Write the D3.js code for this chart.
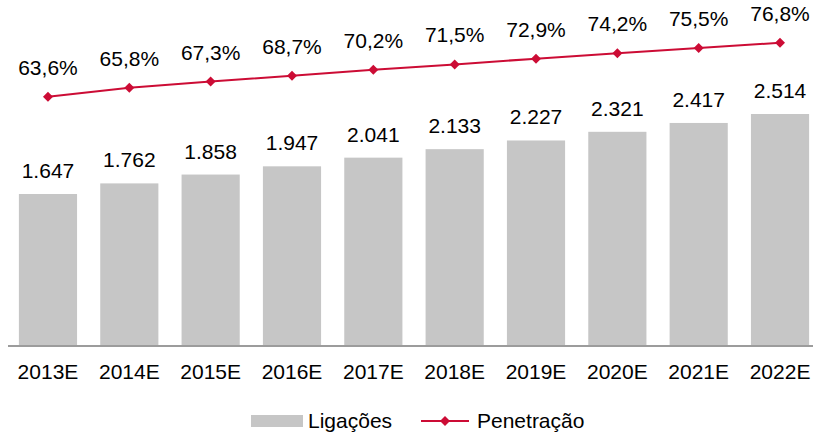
<!DOCTYPE html>
<html>
<head>
<meta charset="utf-8">
<script src="https://cdn.jsdelivr.net/npm/d3@7"></script>
<style>
  body { margin: 0; background: #fff; }
  text { font-family: "Liberation Sans", Arial, sans-serif; fill: #000; }
</style>
</head>
<body>
<svg width="813" height="434"></svg>
<script>
// data
const years = ['2013E', '2014E', '2015E', '2016E', '2017E', '2018E', '2019E', '2020E', '2021E', '2022E'];
const ligacoes = [1.647, 1.762, 1.858, 1.947, 2.041, 2.133, 2.227, 2.321, 2.417, 2.514];
const penetracao = [63.6, 65.8, 67.3, 68.7, 70.2, 71.5, 72.9, 74.2, 75.5, 76.8];

const barColor = '#c6c6c6';
const lineColor = '#cc0c35';
const fontSize = 21;

const svg = d3.select('svg');

const x = d3.scaleBand()
    .domain(years)
    .range([7.3, 820.7])
    .paddingInner(0.285)
    .paddingOuter(0.1425);

const y = d3.scaleLinear()
    .domain([0, 2.514])
    .range([346, 114]);

// secondary axis for the line
const y2 = d3.scaleLinear()
    .domain([63.6, 76.8])
    .range([96.7, 42.7]);

const fmtBar = d => d3.format('.3f')(d);
const fmtPct = d => d3.format('.1f')(d).replace('.', ',') + '%';

// bars
svg.append('g').selectAll('rect')
    .data(ligacoes)
    .join('rect')
    .attr('x', (d, i) => x(years[i]))
    .attr('y', d => y(d))
    .attr('width', x.bandwidth())
    .attr('height', d => y(0) - y(d))
    .attr('fill', barColor);

svg.append('g').selectAll('text')
    .data(ligacoes)
    .join('text')
    .attr('x', (d, i) => x(years[i]) + x.bandwidth() / 2)
    .attr('y', d => y(d) - 16)
    .attr('text-anchor', 'middle')
    .style('font-size', fontSize + 'px')
    .text(fmtBar);

// x axis
const xAxis = svg.append('g')
    .attr('transform', 'translate(0,' + y(0) + ')')
    .call(d3.axisBottom(x).tickSize(0).tickPadding(18));
xAxis.select('.domain').remove();
xAxis.append('line')
    .attr('x1', 8).attr('x2', 813)
    .attr('stroke', '#9c9c9c')
    .attr('stroke-width', 2);
xAxis.selectAll('.tick text')
    .style('font-size', fontSize + 'px')
    .attr('font-family', null)
    .attr('fill', '#000');

// line
const cx = i => x(years[i]) + x.bandwidth() / 2;
const line = d3.line()
    .x((d, i) => cx(i))
    .y(d => y2(d));

svg.append('path')
    .datum(penetracao)
    .attr('fill', 'none')
    .attr('stroke', lineColor)
    .attr('stroke-width', 2)
    .attr('d', line);

// rotated square marker
const diamond = d3.symbol().type(d3.symbolSquare).size(50);

svg.append('g').selectAll('path')
    .data(penetracao)
    .join('path')
    .attr('transform', (d, i) => 'translate(' + cx(i) + ',' + y2(d) + ') rotate(45)')
    .attr('d', diamond)
    .attr('fill', lineColor);

svg.append('g').selectAll('text')
    .data(penetracao)
    .join('text')
    .attr('x', (d, i) => cx(i))
    .attr('y', d => y2(d) - 22)
    .attr('text-anchor', 'middle')
    .style('font-size', fontSize + 'px')
    .text(fmtPct);

// legend
const legend = svg.append('g');
legend.append('rect')
    .attr('x', 251).attr('y', 415)
    .attr('width', 52).attr('height', 12)
    .attr('fill', barColor);
legend.append('text')
    .attr('x', 308).attr('y', 428)
    .style('font-size', fontSize + 'px')
    .text('Ligações');
legend.append('line')
    .attr('x1', 421).attr('x2', 469)
    .attr('y1', 421).attr('y2', 421)
    .attr('stroke', lineColor)
    .attr('stroke-width', 2);
legend.append('path')
    .attr('transform', 'translate(445,421) rotate(45)')
    .attr('d', diamond)
    .attr('fill', lineColor);
legend.append('text')
    .attr('x', 477).attr('y', 428)
    .style('font-size', fontSize + 'px')
    .text('Penetração');
</script>
</body>
</html>
